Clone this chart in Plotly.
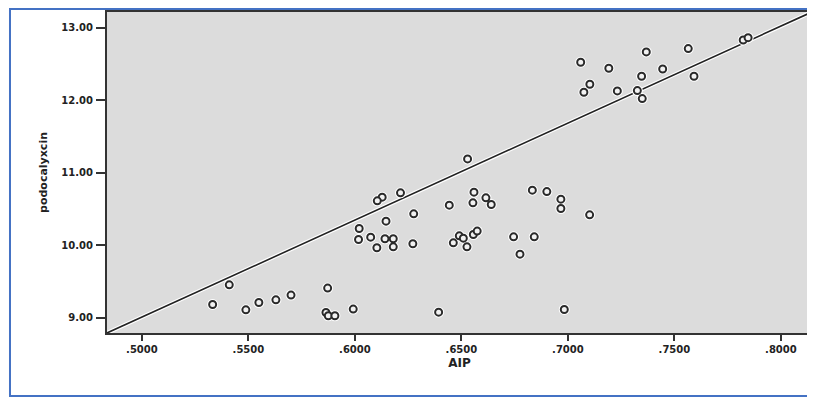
import plotly.graph_objects as go

# AIP (x) values
aip = [0.5410, 0.5332, 0.5488, 0.5549, 0.5629, 0.5700, 0.5872, 0.5864, 0.5875, 0.5906, 0.5992,
       0.6529, 0.6214, 0.6128, 0.6105, 0.6276, 0.6146, 0.6020, 0.6017, 0.6074, 0.6141, 0.6180,
       0.6103, 0.6180, 0.6272,
       0.6443, 0.6559, 0.6615, 0.6640, 0.6554,
       0.6462, 0.6490, 0.6509, 0.6556, 0.6574, 0.6526,
       0.6833, 0.6901, 0.6967, 0.6967, 0.7102, 0.6745, 0.6842, 0.6775,
       0.6393, 0.6983,
       0.7060, 0.7192, 0.7368, 0.7565, 0.7445, 0.7346, 0.7592, 0.7103, 0.7075, 0.7232, 0.7326,
       0.7349, 0.7823, 0.7846]

# podocalyxcin (y) values
podocalyxcin = [9.455, 9.184, 9.110, 9.211, 9.248, 9.313, 9.410, 9.073, 9.028, 9.028, 9.120,
                11.193, 10.724, 10.665, 10.614, 10.434, 10.333, 10.232, 10.080, 10.113, 10.090, 10.090,
                9.966, 9.979, 10.021,
                10.554, 10.734, 10.655, 10.563, 10.586,
                10.034, 10.131, 10.099, 10.149, 10.196, 9.979,
                10.761, 10.742, 10.637, 10.508, 10.421, 10.117, 10.117, 9.878,
                9.078, 9.115,
                12.527, 12.444, 12.669, 12.715, 12.434, 12.333, 12.333, 12.223, 12.113, 12.131, 12.135,
                12.025, 12.834, 12.866]

# fit line coefficients (as drawn)
fit_slope = 13.385
fit_intercept = 2.317

x_range = [0.4836, 0.8146]
y_range = [8.79, 13.22]

x_tickvals = [0.50, 0.55, 0.60, 0.65, 0.70, 0.75, 0.80]
x_ticktext = [".5000", ".5500", ".6000", ".6500", ".7000", ".7500", ".8000"]
y_tickvals = [9, 10, 11, 12, 13]
y_ticktext = ["9.00", "10.00", "11.00", "12.00", "13.00"]

fig = go.Figure()

line_x = x_range
line_y = [fit_intercept + fit_slope * v for v in line_x]
fig.add_trace(go.Scatter(x=line_x, y=line_y, mode="lines",
                         line=dict(color="white", width=4), hoverinfo="skip", showlegend=False))
fig.add_trace(go.Scatter(x=line_x, y=line_y, mode="lines",
                         line=dict(color="#222222", width=1.6), hoverinfo="skip", showlegend=False))

# white halo + dark ring with light centre
fig.add_trace(go.Scatter(x=aip, y=podocalyxcin, mode="markers",
                         marker=dict(symbol="circle", size=11, color="white", line=dict(width=0)),
                         hoverinfo="skip", showlegend=False))
fig.add_trace(go.Scatter(x=aip, y=podocalyxcin, mode="markers",
                         marker=dict(symbol="circle", size=7, color="#f2f2f2",
                                     line=dict(color="#2a2a2a", width=2)),
                         showlegend=False))

FONT = "DejaVu Sans, Verdana, sans-serif"
axis_font = dict(family=FONT, size=10, color="#222222", weight="bold")

fig.update_xaxes(range=x_range, tickvals=x_tickvals, ticktext=x_ticktext, automargin=False,
                 showgrid=False, zeroline=False, showline=True, linecolor="#333333", linewidth=2,
                 mirror=True, ticks="outside", ticklen=6, tickwidth=1.5, tickcolor="#333333",
                 tickfont=axis_font,
                 title=dict(text="<b>AIP</b>", standoff=5,
                            font=dict(family=FONT, size=12, color="#222222")))
fig.update_yaxes(range=y_range, tickvals=y_tickvals, ticktext=y_ticktext, automargin=False,
                 showgrid=False, zeroline=False, showline=True, linecolor="#333333", linewidth=2,
                 mirror=True, ticks="outside", ticklen=9, tickwidth=1.5, tickcolor="#333333",
                 tickfont=axis_font, ticklabelstandoff=1,
                 title=dict(text="<b>podocalyxcin</b>", standoff=12,
                            font=dict(family=FONT, size=11, color="#222222")))

fig.add_shape(type="rect", xref="paper", yref="paper",
              x0=-0.1376, x1=1.02, y0=-0.196, y1=1.0093,
              line=dict(color="#4472C4", width=2), fillcolor="rgba(0,0,0,0)", layer="below")

# page body adds an 8px offset, so the figure is sized to fit inside the window
fig.update_layout(width=807, height=389,
                  margin=dict(l=99, r=3, t=4, b=64),
                  plot_bgcolor="#dcdcdc", paper_bgcolor="white")

fig.write_html("out.html")
